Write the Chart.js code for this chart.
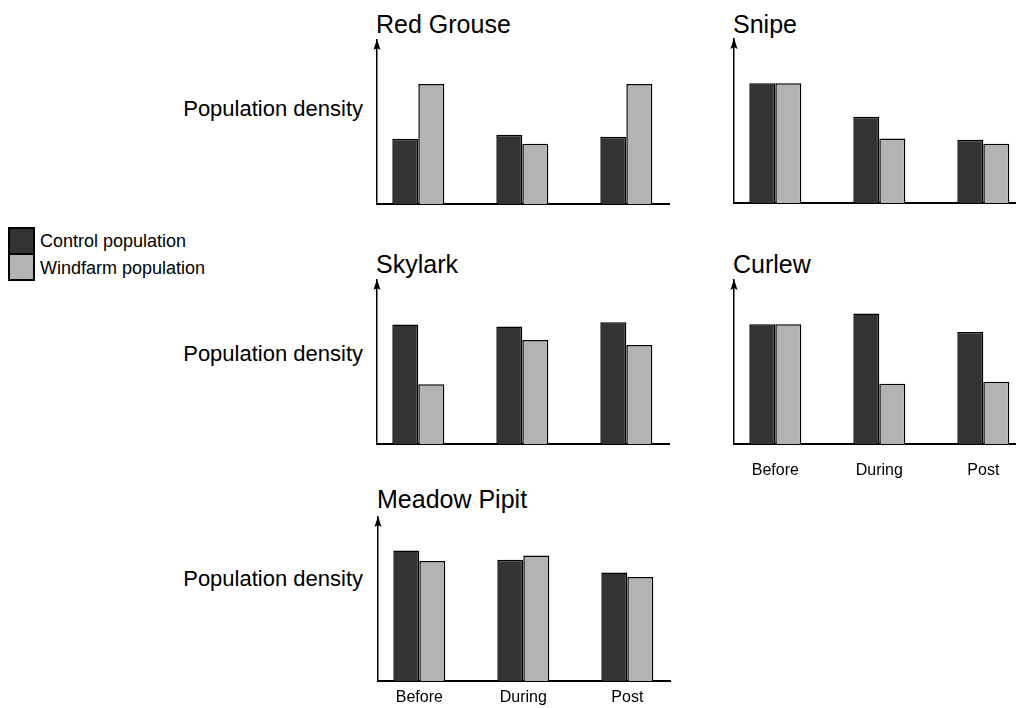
<!DOCTYPE html>
<html>
<head>
<meta charset="utf-8">
<script src="https://cdn.jsdelivr.net/npm/chart.js@4.4.1/dist/chart.umd.min.js"></script>
<style>
  html, body { margin: 0; padding: 0; background: #fff; }
  body { position: relative; width: 1016px; height: 708px; overflow: hidden;
         font-family: "Liberation Sans", Arial, sans-serif; color: #000; }
  canvas { position: absolute; }
  .txt { position: absolute; white-space: nowrap; }
  .swatch { position: absolute; box-sizing: border-box; border: 2px solid #000; width: 27px; height: 28px; }
</style>
</head>
<body>
<script>
// data (bar heights as % of the axis height)
var periods = ["Before", "During", "Post"];
var seriesNames = ["Control population", "Windfarm population"];
var seriesColors = ["#333333", "#b3b3b3"];

var redGrouseControl = [39.8, 42.2, 41.0];
var redGrouseWindfarm = [73.1, 36.7, 73.1];
var snipeControl = [73.0, 52.6, 38.5];
var snipeWindfarm = [73.0, 39.3, 36.1];
var skylarkControl = [72.8, 71.7, 74.2];
var skylarkWindfarm = [36.5, 63.4, 60.4];
var curlewControl = [73.0, 79.5, 68.3];
var curlewWindfarm = [73.0, 36.7, 37.9];
var meadowPipitControl = [79.5, 74.0, 66.2];
var meadowPipitWindfarm = [73.2, 76.5, 63.4];

var FONT = '"Liberation Sans", Arial, sans-serif';
var PAD_L = 8, PAD_T = 4, PLOT_W = 293, PLOT_H = 164;
var X_MIN = 0.603, X_MAX = 3.42;

var panels = [
  { name: "Red Grouse", control: redGrouseControl, windfarm: redGrouseWindfarm,
    x: 377, top: 40, titleBase: 33, ylabelBase: 117, ticks: false },
  { name: "Snipe", control: snipeControl, windfarm: snipeWindfarm,
    x: 734, top: 39, titleBase: 33, ylabelBase: null, ticks: false },
  { name: "Skylark", control: skylarkControl, windfarm: skylarkWindfarm,
    x: 377, top: 280, titleBase: 273, ylabelBase: 362, ticks: false },
  { name: "Curlew", control: curlewControl, windfarm: curlewWindfarm,
    x: 734, top: 280, titleBase: 273, ylabelBase: null, ticks: true, tickPad: 17, bottom: 44 },
  { name: "Meadow Pipit", control: meadowPipitControl, windfarm: meadowPipitWindfarm,
    x: 378, top: 517, titleBase: 508, ylabelBase: 587, ticks: true, tickPad: 7, bottom: 28 }
];

function addText(text, size, baseline, left, right) {
  var d = document.createElement("div");
  d.className = "txt";
  d.textContent = text;
  d.style.fontSize = size + "px";
  d.style.lineHeight = size + "px";
  d.style.top = (baseline - 0.8465 * size) + "px";
  if (right != null) { d.style.right = (1016 - right) + "px"; d.style.textAlign = "right"; }
  else d.style.left = left + "px";
  document.body.appendChild(d);
}

// legend
seriesNames.forEach(function (n, i) {
  var s = document.createElement("div");
  s.className = "swatch";
  s.style.left = "8px";
  s.style.top = (227 + i * 26) + "px";
  s.style.background = seriesColors[i];
  document.body.appendChild(s);
  addText(n, 18, 247 + i * 27, 40);
});

var arrowPlugin = {
  id: "yArrow",
  afterDraw: function (chart) {
    var ctx = chart.ctx, a = chart.chartArea;
    ctx.save();
    ctx.fillStyle = "#000";
    ctx.beginPath();
    ctx.moveTo(a.left, a.top - 1);
    ctx.lineTo(a.left - 3.5, a.top + 10);
    ctx.lineTo(a.left, a.top + 8);
    ctx.lineTo(a.left + 3.5, a.top + 10);
    ctx.closePath();
    ctx.fill();
    ctx.restore();
  }
};

panels.forEach(function (p) {
  addText(p.name, 25, p.titleBase, p.x - 1);
  if (p.ylabelBase != null) addText("Population density", 22, p.ylabelBase, null, 363);

  var bottom = p.ticks ? p.bottom : 2;
  var c = document.createElement("canvas");
  c.width = PAD_L + PLOT_W;
  c.height = PAD_T + PLOT_H + bottom;
  c.style.left = (p.x - PAD_L) + "px";
  c.style.top = (p.top - PAD_T) + "px";
  document.body.appendChild(c);

  var series = [p.control, p.windfarm];
  new Chart(c.getContext("2d"), {
    type: "bar",
    data: {
      datasets: series.map(function (vals, k) {
        return {
          label: seriesNames[k],
          data: vals.map(function (v, i) { return { x: i + 1, y: v }; }),
          backgroundColor: seriesColors[k],
          borderColor: "#000",
          borderWidth: 1.5,
          categoryPercentage: 0.5,
          barPercentage: 1.0
        };
      })
    },
    options: {
      responsive: false,
      animation: false,
      layout: { padding: { left: PAD_L, top: PAD_T, right: 0, bottom: 0 } },
      plugins: { legend: { display: false }, tooltip: { enabled: false } },
      scales: {
        x: {
          type: "linear", min: X_MIN, max: X_MAX, offset: false, z: 1,
          grid: { display: false, drawTicks: false },
          border: { display: true, color: "#000", width: 2 },
          afterBuildTicks: function (s) {
            s.ticks = periods.map(function (_, i) { return { value: i + 1 }; });
          },
          afterFit: function (s) { s.height = bottom; },
          ticks: {
            display: p.ticks, padding: p.tickPad || 0, color: "#000",
            autoSkip: false, maxRotation: 0,
            font: { size: 16, family: FONT },
            callback: function (v) { return periods[v - 1]; }
          }
        },
        y: {
          min: 0, max: 100,
          grid: { display: false, drawTicks: false },
          ticks: { display: false },
          border: { display: true, color: "#000", width: 1.5 },
          afterFit: function (s) { s.width = 0; }
        }
      }
    },
    plugins: [arrowPlugin]
  });
});
</script>
</body>
</html>
